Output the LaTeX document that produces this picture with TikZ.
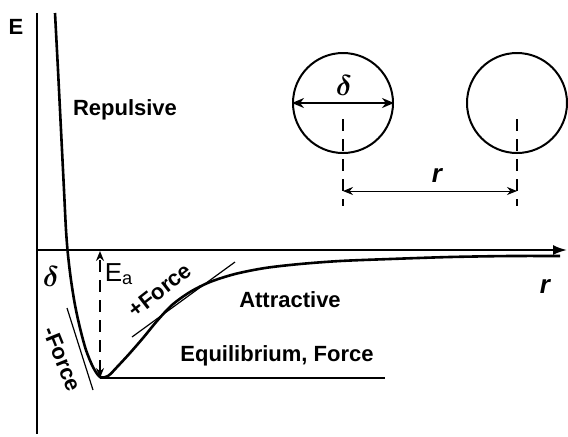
\documentclass[tikz,border=0pt]{standalone}
\usepackage{amsmath}
\usepackage{fontspec}
\setmainfont{Liberation Sans}
\usetikzlibrary{arrows.meta,positioning,calc}
\tikzset{
  lbl/.style={font=\fontsize{11}{13}\selectfont\bfseries,inner sep=1pt},
  axis/.style={line width=1pt},
  >=Stealth
}

\begin{document}
\begin{tikzpicture}[x=0.5pt,y=-0.5pt,
    tang/.style={line width=0.6pt},
    guide/.style={line width=0.8pt,dash pattern=on 6pt off 4pt},
    ball/.style={circle,draw,line width=1pt,minimum size=50pt,inner sep=0pt}]
  \useasboundingbox (0,0) rectangle (568,436);
  % axes
  \coordinate (top) at (37,13);
  \coordinate (bot) at (37,434);
  \coordinate (O) at (37,250);
  \coordinate (rend) at (567,250);
  \draw[axis] (top) -- (bot);
  \draw[axis,-{Latex[length=7pt,width=5pt]}] (O) -- (rend);
  \node[lbl] (E) at (16,27) {E};
  \node[lbl,font=\fontsize{13}{15}\selectfont\bfseries\itshape] (rlab) at (545,286) {r};

  % potential curve
  \coordinate (min) at (100,378);
  \draw[line width=1.3pt] plot[smooth,tension=0.5] coordinates {
    (55,13) (58,70) (61,130) (64,190) (66,230) (68,255) (71,280)
    (75,305) (80,328) (86,350) (93,367) (100,377) (108,376) (118,366)
    (130,353) (143,338) (157,321) (172,305) (190,292) (210,282)
    (235,274) (265,268) (300,264) (340,261) (390,259) (450,257)
    (510,256) (560,256)};

  % tangents and equilibrium
  \coordinate (nf1) at (67,308);
  \coordinate (nf2) at (93,390);
  \coordinate (pf1) at (132,337);
  \coordinate (pf2) at (235,262);
  \coordinate (eq) at (385,378);
  \draw[tang] (nf1) -- (nf2);
  \draw[tang] (pf1) -- (pf2);
  \draw[line width=0.8pt] (min) -- (eq);

  % activation energy
  \coordinate (ea) at (100,251);
  \draw[guide,{Stealth[length=5pt,width=4pt]}-{Stealth[length=5pt,width=4pt]}] (min) -- (ea);
  \node[font=\fontsize{13}{15}\selectfont,inner sep=1pt] (Ea) at (119,274) {E\textsubscript{a}};

  % labels
  \node[lbl] (rep) at (125,110) {Repulsive};
  \node[lbl] (att) at (290,300) {Attractive};
  \node[lbl] (eqlab) at (277,356) {Equilibrium, Force};
  \node[lbl,rotate=38] (pforce) at (160,290) {+Force};
  \node[lbl,rotate=-68] (nforce) at (62,359) {-Force};
  \node[font=\fontsize{14}{16}\selectfont,inner sep=0pt] (d1) at (51,276) {$\boldsymbol{\delta}$};

  % two particles
  \node[ball] (c1) at (343,103) {};
  \node[ball] (c2) at (517,103) {};
  \draw[line width=1pt,{Stealth[length=6pt,width=5pt]}-{Stealth[length=6pt,width=5pt]}] (c1.west) -- (c1.east);
  \node[font=\fontsize{14}{16}\selectfont,inner sep=0pt] (d2) at (344,85) {$\boldsymbol{\delta}$};
  \draw[guide] ($(c1.center)+(0,16)$) coordinate (g1) -- ($(c1.center)+(0,103)$) coordinate (g2);
  \draw[guide] ($(c2.center)+(0,16)$) coordinate (g3) -- ($(c2.center)+(0,103)$) coordinate (g4);
  \coordinate (s1) at (343,191);
  \coordinate (s2) at (517,191);
  \draw[line width=0.5pt,{Stealth[length=5pt,width=4pt]}-{Stealth[length=5pt,width=4pt]}] (s1) -- (s2);
  \node[lbl,font=\fontsize{13}{15}\selectfont\bfseries\itshape] (rdist) at (437,175) {r};
\end{tikzpicture}
\end{document}
